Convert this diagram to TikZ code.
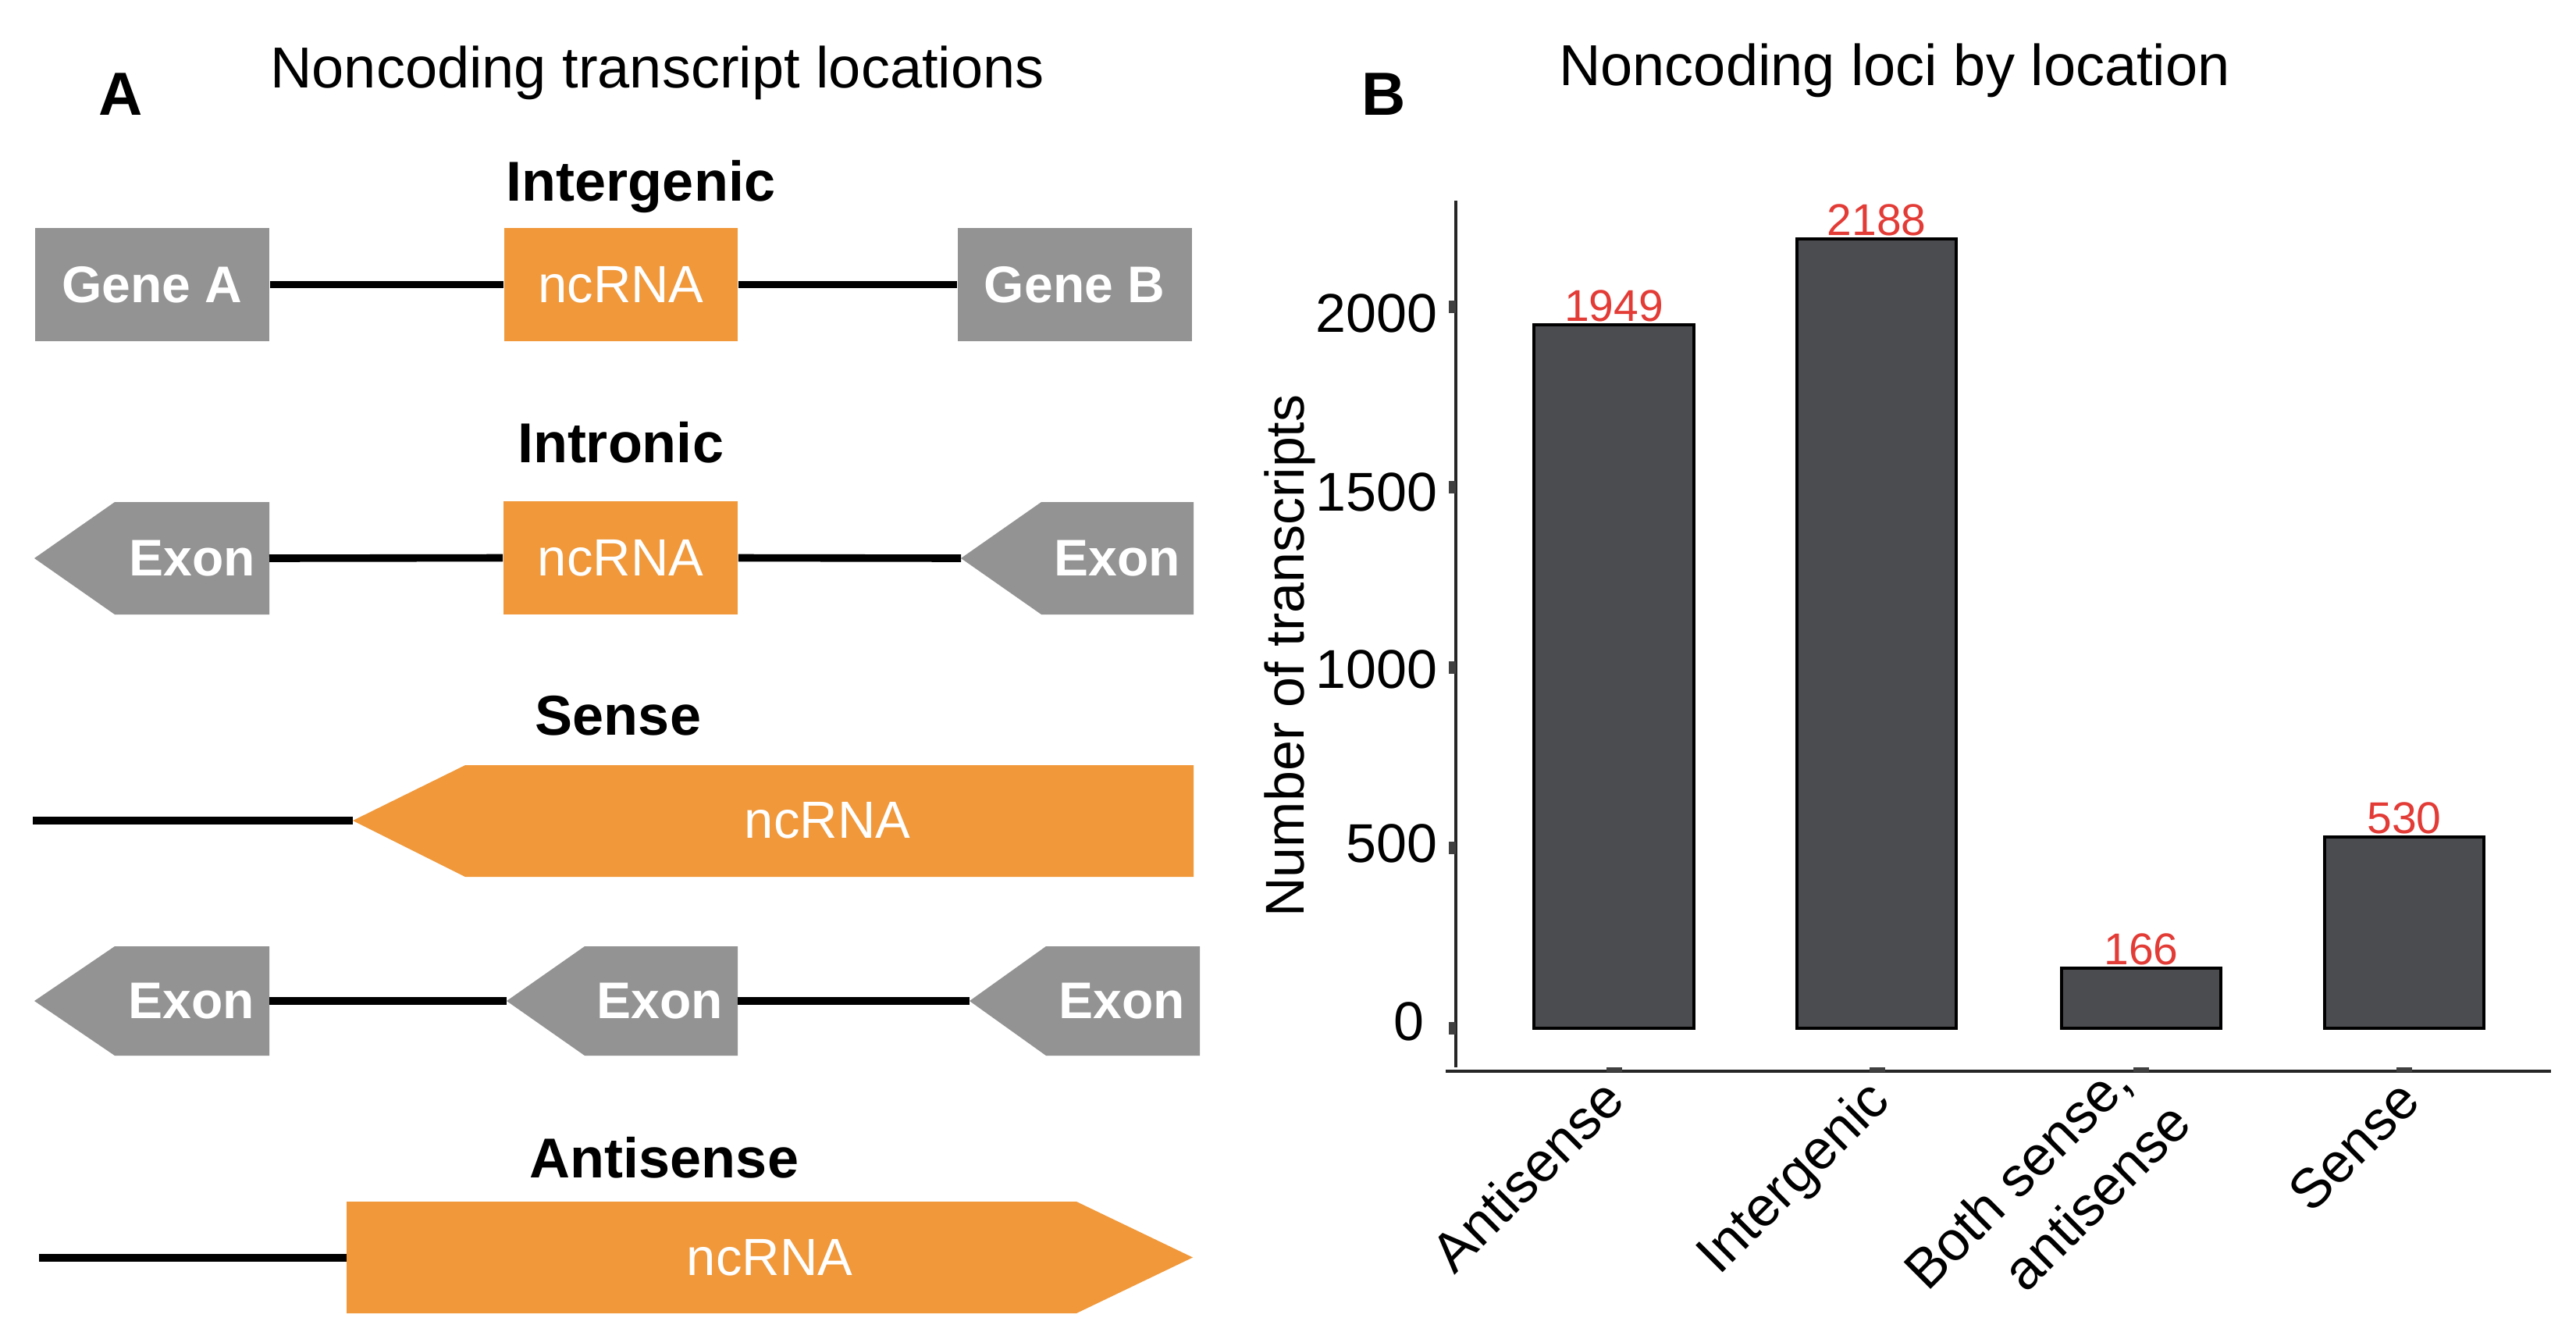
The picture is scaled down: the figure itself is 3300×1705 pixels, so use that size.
\documentclass[tikz,border=0pt]{standalone}
\usepackage{fontspec}
\setmainfont{Liberation Sans}
\definecolor{geneg}{HTML}{939393}
\definecolor{ncor}{HTML}{F0983A}
\definecolor{bardk}{HTML}{4B4C50}
\definecolor{valred}{HTML}{E33B36}
\tikzset{
  panellbl/.style={font=\fontsize{19.5}{23}\selectfont\bfseries, inner sep=0, anchor=base},
  ttl/.style={font=\fontsize{18.5}{22}\selectfont, inner sep=0, anchor=base},
  rowlbl/.style={font=\fontsize{18}{22}\selectfont\bfseries, inner sep=0, anchor=base},
  greybox/.style={rectangle, fill=geneg, inner sep=0, text=white, font=\fontsize{16.5}{19}\selectfont\bfseries},
  orbox/.style={rectangle, fill=ncor, inner sep=0, text=white, font=\fontsize{16.75}{19}\selectfont},
  wbold/.style={text=white, inner sep=0, font=\fontsize{16.5}{19}\selectfont\bfseries},
  wreg/.style={text=white, inner sep=0, font=\fontsize{16.75}{19}\selectfont},
  link/.style={line width=2.4pt, black},
  axisline/.style={line width=1pt, black!85},
  tickmark/.style={fill=black!75},
  barbox/.style={fill=bardk, draw=black, line width=0.85pt},
  val/.style={text=valred, font=\fontsize{14.25}{17}\selectfont, anchor=base, inner sep=0},
  ticklbl/.style={font=\fontsize{17.5}{21}\selectfont, anchor=east, inner sep=0},
  xlbl/.style={font=\fontsize{17.75}{21}\selectfont, rotate=45, anchor=base east, inner sep=0},
}
\begin{document}
\begin{tikzpicture}[x=0.25pt,y=-0.25pt]
\useasboundingbox[fill=white] (0,0) rectangle (3300,1705);

% ---------------- Panel A ----------------
\node[panellbl] (lblA) at (155,147) {A};
\node[ttl] (titleA) at (842,112) {Noncoding transcript locations};

% Row 1: Intergenic
\node[rowlbl] (rIntergenic) at (821,257) {Intergenic};
\node[greybox, minimum width=75pt, minimum height=36.25pt] (gA) at (195,364.5) {Gene A};
\node[orbox, minimum width=74.75pt, minimum height=36.25pt] (nc1) at (795.5,364.5) {ncRNA};
\node[greybox, minimum width=75pt, minimum height=36.25pt] (gB) at (1376.5,364.5) {Gene B};
\draw[link] (gA.east) -- (nc1.west);
\draw[link] (nc1.east) -- (gB.west);

% Row 2: Intronic
\node[rowlbl] (rIntronic) at (795,592) {Intronic};
\fill[geneg] (44,715) -- (147,643) -- (345,643) -- (345,787) -- (147,787) -- cycle;
\coordinate (ex2a) at (345,715);
\node[wbold] (ex2at) at (246,715) {Exon};
\node[orbox, minimum width=75pt, minimum height=36.25pt] (nc2) at (795,714.5) {ncRNA};
\fill[geneg] (1231,715) -- (1334,643) -- (1529,643) -- (1529,787) -- (1334,787) -- cycle;
\coordinate (ex2b) at (1231,715);
\node[wbold] (ex2bt) at (1431,715) {Exon};
\draw[link] (ex2a) -- (nc2.west);
\draw[link] (nc2.east) -- (ex2b);

% Row 3: Sense
\node[rowlbl] (rSense) at (792,941) {Sense};
\fill[ncor] (452,1051) -- (596,980) -- (1529,980) -- (1529,1123) -- (596,1123) -- cycle;
\coordinate (sensetip) at (452,1051);
\coordinate (sensestart) at (42,1051);
\node[wreg] (senset) at (1060,1051) {ncRNA};
\draw[link] (sensestart) -- (sensetip);

% Row 4: exons
\fill[geneg] (44,1282) -- (147,1212) -- (345,1212) -- (345,1352) -- (147,1352) -- cycle;
\fill[geneg] (649,1282) -- (749,1212) -- (945,1212) -- (945,1352) -- (749,1352) -- cycle;
\fill[geneg] (1242,1282) -- (1340,1212) -- (1537,1212) -- (1537,1352) -- (1340,1352) -- cycle;
\coordinate (e4ar) at (345,1282);
\coordinate (e4bl) at (649,1282);
\coordinate (e4br) at (945,1282);
\coordinate (e4cl) at (1242,1282);
\node[wbold] (e4at) at (245,1282) {Exon};
\node[wbold] (e4bt) at (845,1282) {Exon};
\node[wbold] (e4ct) at (1437,1282) {Exon};
\draw[link] (e4ar) -- (e4bl);
\draw[link] (e4br) -- (e4cl);

% Row 5: Antisense
\node[rowlbl] (rAntisense) at (851,1508) {Antisense};
\fill[ncor] (444,1539) -- (1379,1539) -- (1528,1610.5) -- (1379,1682) -- (444,1682) -- cycle;
\coordinate (antileft) at (444,1611);
\coordinate (antistart) at (50,1611);
\node[wreg] (antit) at (986,1610.5) {ncRNA};
\draw[link] (antistart) -- (antileft);

% ---------------- Panel B ----------------
\node[panellbl] (lblB) at (1773,147) {B};
\node[ttl] (titleB) at (2427,109) {Noncoding loci by location};

% bars
\draw[barbox] (1965,1317) rectangle (2170,416);
\draw[barbox] (2302,1317) rectangle (2506,306);
\draw[barbox] (2641,1317) rectangle (2845,1240);
\draw[barbox] (2978,1317) rectangle (3182,1072);

\node[val] (v1) at (2067.5,411) {1949};
\node[val] (v2) at (2404,301) {2188};
\node[val] (v3) at (2743,1235) {166};
\node[val] (v4) at (3080,1067) {530};

% axes
\coordinate (yaxtop) at (1865,257);
\coordinate (yaxbot) at (1865,1367);
\coordinate (xaxl) at (1852,1372);
\coordinate (xaxr) at (3268,1372);
\draw[axisline] (yaxtop) -- (yaxbot);
\draw[axisline] (xaxl) -- (xaxr);

% y ticks
\foreach \ty in {1317,1086,855,624,393}{
  \fill[tickmark] (1856,\ty-8) rectangle (1865,\ty+8);
}
% x ticks
\foreach \tx in {2068,2405,2743,3080}{
  \fill[tickmark] (\tx-10,1367) rectangle (\tx+10,1373);
}

% y tick labels
\node[ticklbl] (t0) at (1825,1308) {0};
\node[ticklbl] (t500) at (1842,1080) {500};
\node[ticklbl] (t1000) at (1842,857) {1000};
\node[ticklbl] (t1500) at (1842,630) {1500};
\node[ticklbl] (t2000) at (1842,401) {2000};

% axis title
\node[font=\fontsize{17.5}{21}\selectfont, rotate=90, anchor=base, inner sep=0] (ytitle) at (1670,840) {Number of transcripts};

% x labels
\node[xlbl] (xl1) at (2085,1412) {Antisense};
\node[xlbl] (xl2) at (2424,1413) {Intergenic};
\node[xlbl] (xl3a) at (2735,1390) {Both sense,};
\node[xlbl] (xl3b) at (2811,1442) {antisense};
\node[xlbl] (xl4) at (3104,1413) {Sense};
\end{tikzpicture}
\end{document}
